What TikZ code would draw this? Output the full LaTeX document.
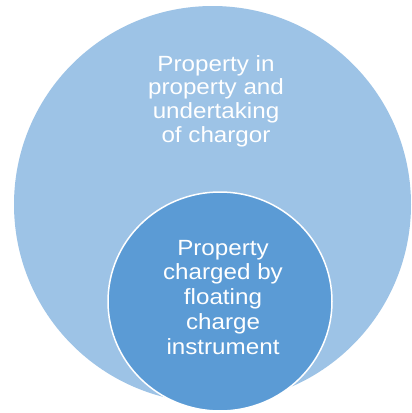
\documentclass[tikz,border=0pt]{standalone}
\usepackage{fontspec}
\setmainfont{Liberation Sans}[FakeStretch=1.1]
\usetikzlibrary{shapes.geometric}
\definecolor{outerblue}{HTML}{9DC3E6}
\definecolor{innerblue}{HTML}{5B9BD5}
\begin{document}
\begin{tikzpicture}[x=1pt,y=1pt,
  label text/.style={text=white, align=center, inner sep=0pt, font=\fontsize{22}{23.7}\selectfont},
  inner label/.style={label text, font=\fontsize{22}{24.8}\selectfont}]
\useasboundingbox[fill=white] (0,0) rectangle (412,-413);
\node[circle, fill=outerblue, minimum size=397pt, inner sep=0pt] (outer) at (212.5,-204.5) {};
\node[ellipse, fill=innerblue, draw=white, line width=1.5pt, minimum width=224pt, minimum height=219pt, inner sep=0pt] (inner) at (220,-301.5) {};
\node[label text] (outertext) at (216,-101) {Property in\\property and\\undertaking\\of chargor};
\node[inner label] (innertext) at (223,-297.3) {Property\\charged by\\floating\\charge\\instrument};
\end{tikzpicture}
\end{document}
